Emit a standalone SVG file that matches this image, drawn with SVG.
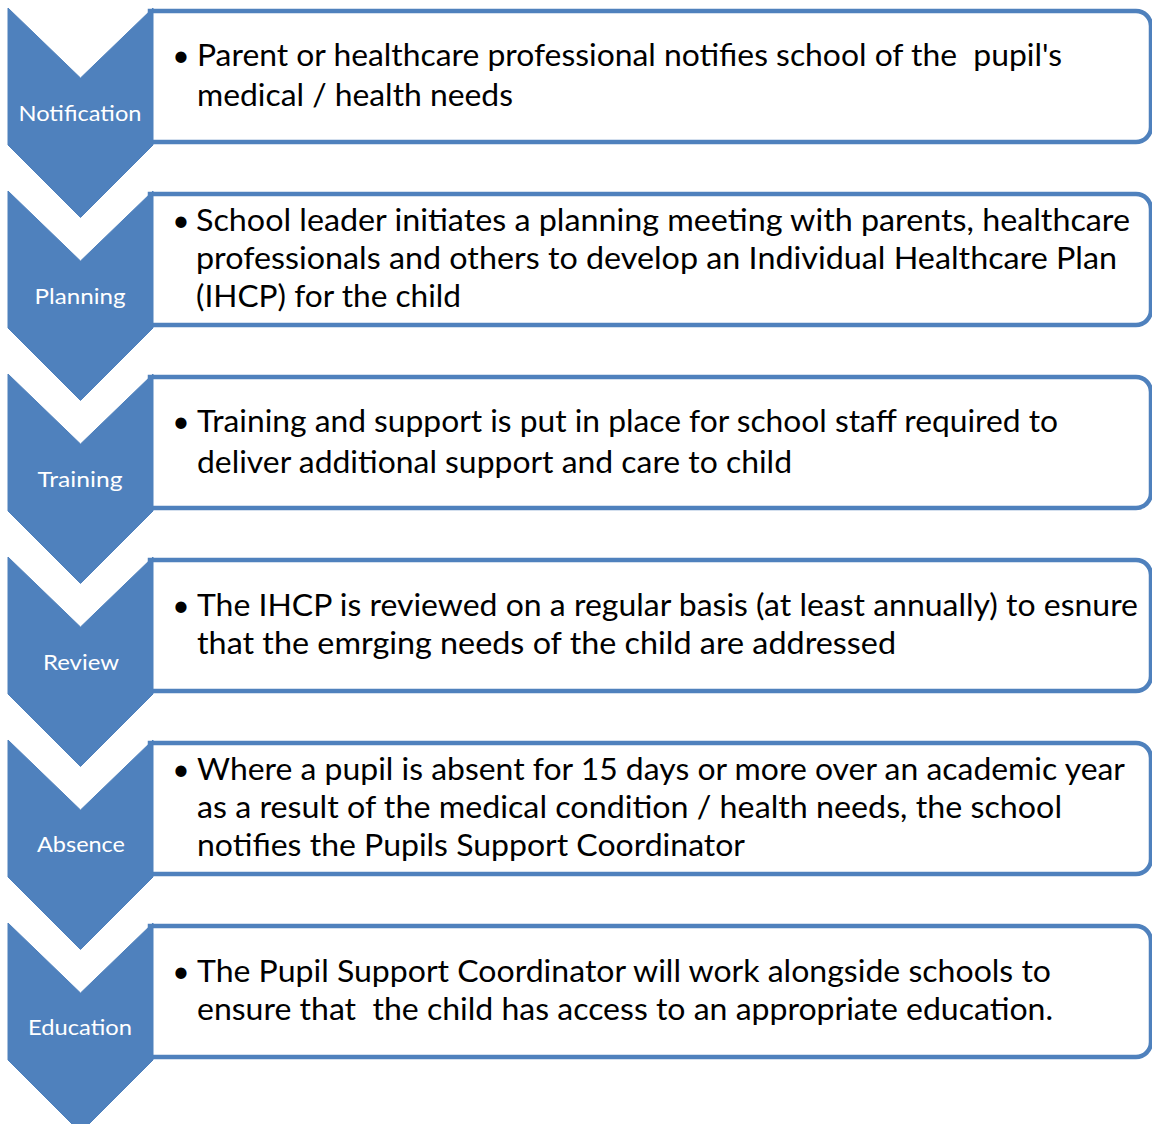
<svg xmlns="http://www.w3.org/2000/svg" width="1152" height="1124" viewBox="0 0 1152 1124">
<defs>
<style>
.chev{fill:#4F81BD;stroke:#4F81BD;stroke-width:1;stroke-linejoin:round}
.box{fill:#FFFFFF;stroke:#4F81BD;stroke-width:4.5}
.lbl{font-family:Lato,"Liberation Sans",sans-serif;font-size:22px;fill:#FFFFFF;text-anchor:middle}
.t{font-family:Lato,"Liberation Sans",sans-serif;font-size:30px;fill:#000000}
.b{font-family:Lato,"Liberation Sans",sans-serif;font-size:30px;fill:#000000;text-anchor:middle}
</style>
<path id="boxshape" d="M150,0 H1136 A15,15 0 0 1 1151,15 V116 A15,15 0 0 1 1136,131 H150 Z"/>
<path id="chevshape" d="M8,0 L80.5,70 L153,0 L153,137 L80.5,209.5 L8,137 Z"/>
</defs>
<rect width="1152" height="1124" fill="#FFFFFF"/>

<g id="notification">
<use href="#boxshape" class="box" transform="translate(0,11)"/>
<use href="#chevshape" class="chev" transform="translate(0,8)"/>
<text class="lbl" x="80" y="121" textLength="123" lengthAdjust="spacingAndGlyphs">Notification</text>
<text class="b" x="181" y="66">•</text>
<text class="t" x="197" y="66" textLength="865" lengthAdjust="spacingAndGlyphs">Parent or healthcare professional notifies school of the &#160;pupil's</text>
<text class="t" x="197" y="106" textLength="316" lengthAdjust="spacingAndGlyphs">medical / health needs</text>
</g>

<g id="planning">
<use href="#boxshape" class="box" transform="translate(0,194)"/>
<use href="#chevshape" class="chev" transform="translate(0,191)"/>
<text class="lbl" x="80" y="304" textLength="91" lengthAdjust="spacingAndGlyphs">Planning</text>
<text class="b" x="181" y="231">•</text>
<text class="t" x="196" y="231" textLength="934" lengthAdjust="spacingAndGlyphs">School leader initiates a planning meeting with parents, healthcare</text>
<text class="t" x="196" y="269" textLength="921" lengthAdjust="spacingAndGlyphs">professionals and others to develop an Individual Healthcare Plan</text>
<text class="t" x="196" y="307" textLength="265" lengthAdjust="spacingAndGlyphs">(IHCP) for the child</text>
</g>

<g id="training">
<use href="#boxshape" class="box" transform="translate(0,377)"/>
<use href="#chevshape" class="chev" transform="translate(0,374)"/>
<text class="lbl" x="80" y="487" textLength="85" lengthAdjust="spacingAndGlyphs">Training</text>
<text class="b" x="181" y="432">•</text>
<text class="t" x="197" y="432" textLength="861" lengthAdjust="spacingAndGlyphs">Training and support is put in place for school staff required to</text>
<text class="t" x="197" y="473" textLength="595" lengthAdjust="spacingAndGlyphs">deliver additional support and care to child</text>
</g>

<g id="review">
<use href="#boxshape" class="box" transform="translate(0,560)"/>
<use href="#chevshape" class="chev" transform="translate(0,557)"/>
<text class="lbl" x="81" y="670" textLength="76" lengthAdjust="spacingAndGlyphs">Review</text>
<text class="b" x="181" y="616">•</text>
<text class="t" x="197" y="616" textLength="941" lengthAdjust="spacingAndGlyphs">The IHCP is reviewed on a regular basis (at least annually) to esnure</text>
<text class="t" x="197" y="654" textLength="699" lengthAdjust="spacingAndGlyphs">that the emrging needs of the child are addressed</text>
</g>

<g id="absence">
<use href="#boxshape" class="box" transform="translate(0,743)"/>
<use href="#chevshape" class="chev" transform="translate(0,740)"/>
<text class="lbl" x="81" y="852" textLength="88" lengthAdjust="spacingAndGlyphs">Absence</text>
<text class="b" x="181" y="780">•</text>
<text class="t" x="197" y="780" textLength="928" lengthAdjust="spacingAndGlyphs">Where a pupil is absent for 15 days or more over an academic year</text>
<text class="t" x="197" y="818" textLength="865" lengthAdjust="spacingAndGlyphs">as a result of the medical condition / health needs, the school</text>
<text class="t" x="197" y="856" textLength="548" lengthAdjust="spacingAndGlyphs">notifies the Pupils Support Coordinator</text>
</g>

<g id="education">
<use href="#boxshape" class="box" transform="translate(0,926)"/>
<use href="#chevshape" class="chev" transform="translate(0,923)"/>
<text class="lbl" x="80" y="1035" textLength="104" lengthAdjust="spacingAndGlyphs">Education</text>
<text class="b" x="181" y="982">•</text>
<text class="t" x="197" y="982" textLength="854" lengthAdjust="spacingAndGlyphs">The Pupil Support Coordinator will work alongside schools to</text>
<text class="t" x="197" y="1020" textLength="856" lengthAdjust="spacingAndGlyphs">ensure that &#160;the child has access to an appropriate education.</text>
</g>

<g id="connectors"></g>
</svg>
